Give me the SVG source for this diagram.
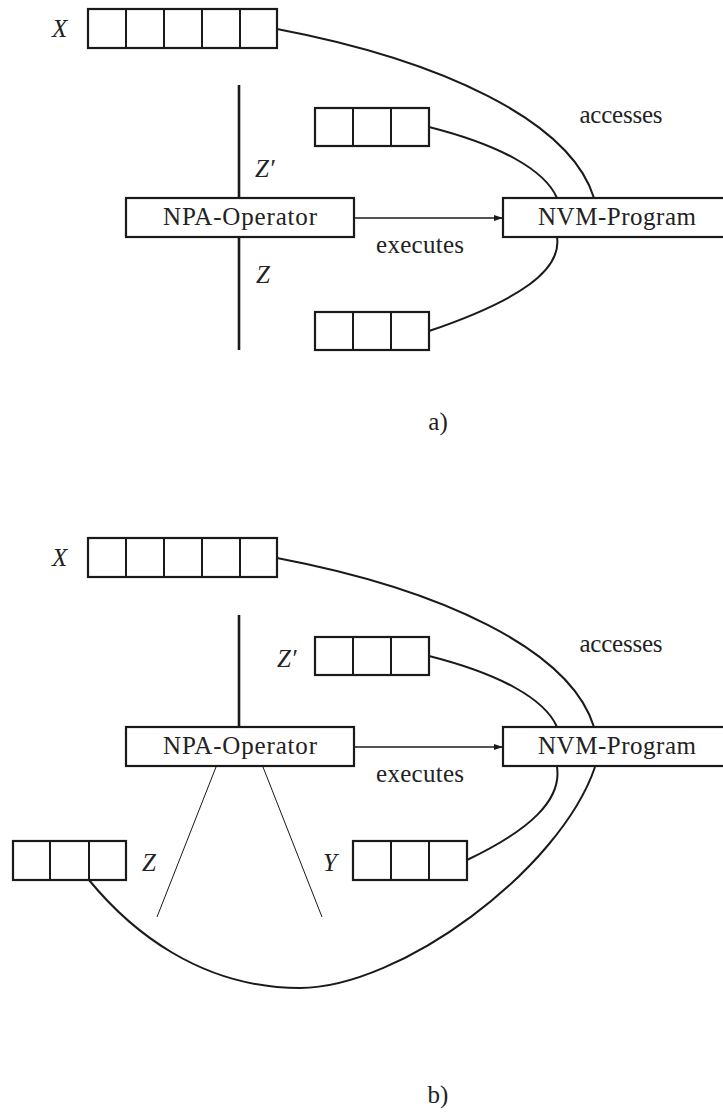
<svg xmlns="http://www.w3.org/2000/svg" width="723" height="1113" viewBox="0 0 723 1113">
<style>
.box{fill:#fff;stroke:#1a1a1a;stroke-width:2.2}
.cell{stroke:#1a1a1a;stroke-width:2;fill:none}
.cur{fill:none;stroke:#1a1a1a;stroke-width:2}
.thin{fill:none;stroke:#1a1a1a;stroke-width:1}
.bar{stroke:#1a1a1a;stroke-width:2.6}
.arr{stroke:#1a1a1a;stroke-width:1.6;fill:none}
.t{font-family:'Liberation Serif','DejaVu Serif',serif;font-size:25px;fill:#222}
.it{font-style:italic;font-size:25px}
</style>
<defs>
<marker id="ah" markerWidth="10" markerHeight="8" refX="9" refY="4" orient="auto" markerUnits="userSpaceOnUse">
<path d="M0,1 L9,4 L0,7 Z" fill="#1a1a1a"/>
</marker>
</defs>
<rect width="723" height="1113" fill="#fff"/>

<!-- ===== a) ===== -->
<g id="a-connectors">
<line class="bar" x1="239" y1="85" x2="239" y2="350"/>
<line class="arr" x1="354" y1="218" x2="503" y2="218" marker-end="url(#ah)"/>
<path class="cur" d="M277,29 C440,60 570,120 594,198"/>
<path class="cur" d="M429,127 C500,145 545,170 557,198"/>
<path class="cur" d="M429,331 C520,300 562,270 557,237"/>
</g>
<g id="a-X">
<rect class="box" x="88" y="9" width="189" height="39"/>
<path class="cell" d="M126,9V48M164,9V48M202,9V48M240,9V48"/>
<text class="t it" x="52" y="37">X</text>
</g>
<g id="a-Zp-array">
<rect class="box" x="315" y="108" width="114" height="38"/>
<path class="cell" d="M353,108V146M391,108V146"/>
</g>
<g id="a-Z-array">
<rect class="box" x="315" y="312" width="114" height="38"/>
<path class="cell" d="M353,312V350M391,312V350"/>
</g>
<g id="a-NPA">
<rect class="box" x="126" y="198" width="228" height="39"/>
<text class="t" x="240" y="225" text-anchor="middle" textLength="154">NPA-Operator</text>
</g>
<g id="a-NVM">
<rect class="box" x="503" y="198" width="230" height="39"/>
<text class="t" x="617" y="225" text-anchor="middle" textLength="158">NVM-Program</text>
</g>
<g id="a-labels">
<text class="t it" x="255" y="177">Z′</text>
<text class="t it" x="256" y="283">Z</text>
<text class="t" x="420" y="253" text-anchor="middle" textLength="88">executes</text>
<text class="t" x="621" y="123" text-anchor="middle" textLength="83">accesses</text>
<text class="t" x="438" y="430" text-anchor="middle">a)</text>
</g>

<!-- ===== b) ===== -->
<g id="b-connectors">
<line class="bar" x1="239" y1="615" x2="239" y2="727"/>
<line class="arr" x1="354" y1="747" x2="503" y2="747" marker-end="url(#ah)"/>
<line class="thin" x1="216" y1="767" x2="157" y2="917"/>
<line class="thin" x1="263" y1="767" x2="322" y2="917"/>
<path class="cur" d="M277,558 C440,589 570,649 594,727"/>
<path class="cur" d="M429,656 C500,674 545,699 557,727"/>
<path class="cur" d="M467,860 C530,830 562,800 557,767"/>
<path class="cur" d="M89,880 C130,930 200,988 300,988 C400,988 560,870 595,767"/>
</g>
<g id="b-X">
<rect class="box" x="88" y="538" width="189" height="39"/>
<path class="cell" d="M126,538V577M164,538V577M202,538V577M240,538V577"/>
<text class="t it" x="52" y="566">X</text>
</g>
<g id="b-Zp-array">
<rect class="box" x="315" y="637" width="114" height="38"/>
<path class="cell" d="M353,637V675M391,637V675"/>
<text class="t it" x="277" y="667">Z′</text>
</g>
<g id="b-Z-array">
<rect class="box" x="13" y="841" width="113" height="39"/>
<path class="cell" d="M50,841V880M89,841V880"/>
<text class="t it" x="142" y="871">Z</text>
</g>
<g id="b-Y-array">
<rect class="box" x="353" y="841" width="114" height="39"/>
<path class="cell" d="M391,841V880M429,841V880"/>
<text class="t it" x="323" y="871">Y</text>
</g>
<g id="b-NPA">
<rect class="box" x="126" y="727" width="228" height="39"/>
<text class="t" x="240" y="754" text-anchor="middle" textLength="154">NPA-Operator</text>
</g>
<g id="b-NVM">
<rect class="box" x="503" y="727" width="230" height="39"/>
<text class="t" x="617" y="754" text-anchor="middle" textLength="158">NVM-Program</text>
</g>
<g id="b-labels">
<text class="t" x="420" y="782" text-anchor="middle" textLength="88">executes</text>
<text class="t" x="621" y="652" text-anchor="middle" textLength="83">accesses</text>
<text class="t" x="438" y="1103" text-anchor="middle">b)</text>
</g>
</svg>
